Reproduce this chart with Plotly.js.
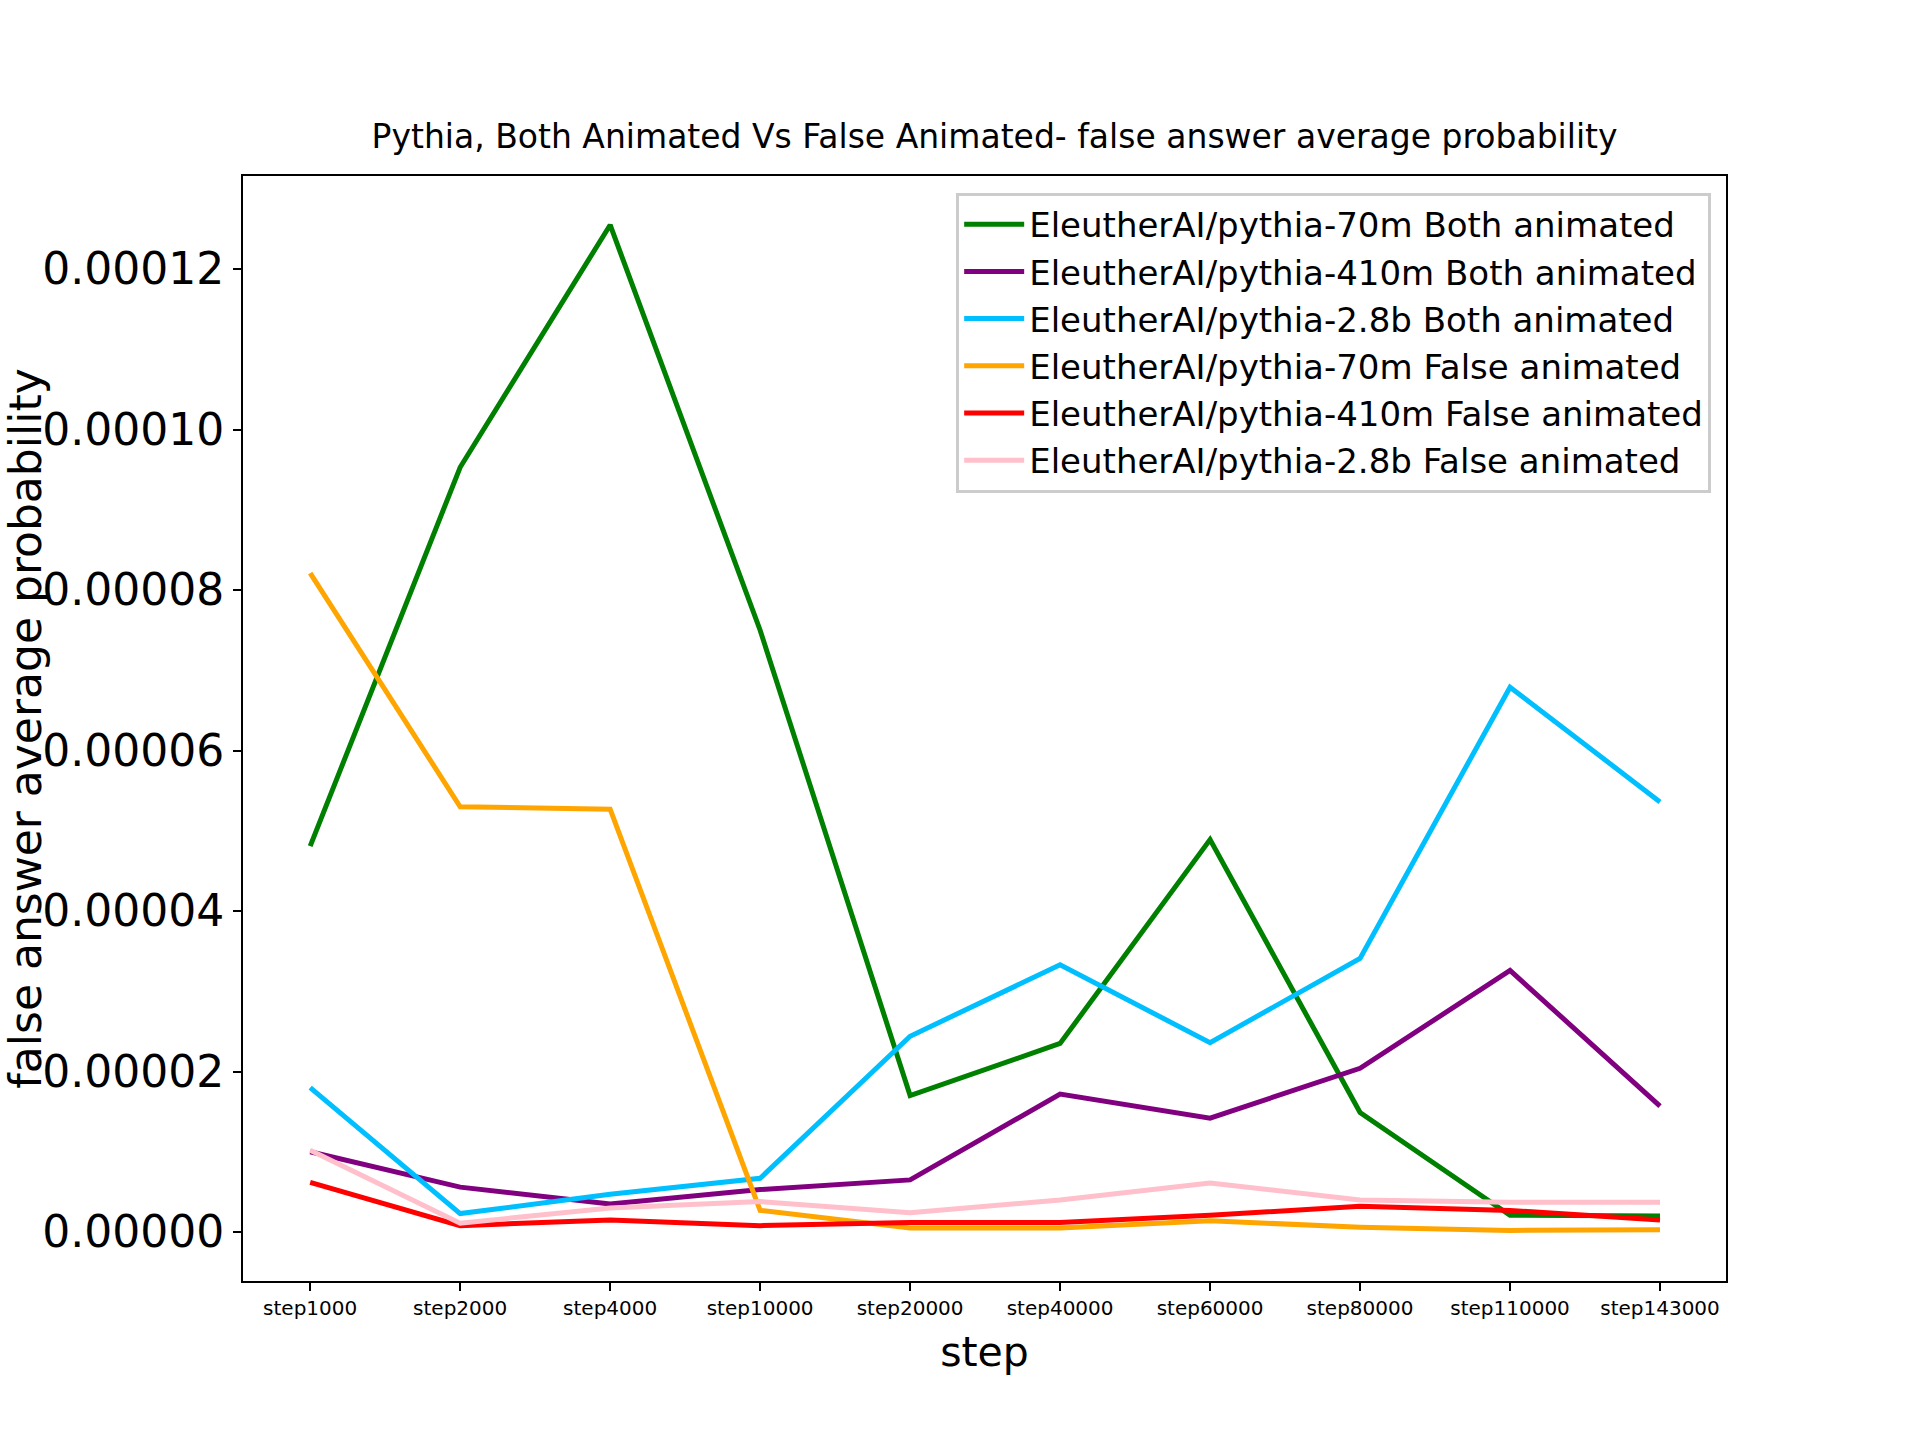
<html>
<head>
<meta charset="UTF-8">
<script src="https://cdn.plot.ly/plotly-3.0.1.min.js"></script>
</head>
<body style="margin:0;background:white;">
<div id="plot" style="width:1920px;height:1440px;"></div>
<script>
const steps = ['step1000', 'step2000', 'step4000', 'step10000', 'step20000', 'step40000', 'step60000', 'step80000', 'step110000', 'step143000'];

const both70m = [4.81e-5, 9.53e-5, 1.255e-4, 7.5e-5, 1.7e-5, 2.35e-5, 4.89e-5, 1.49e-5, 2.1e-6, 2.0e-6];
const both410m = [1.0e-5, 5.6e-6, 3.5e-6, 5.3e-6, 6.5e-6, 1.72e-5, 1.42e-5, 2.04e-5, 3.26e-5, 1.57e-5];
const both28b = [1.8e-5, 2.3e-6, 4.7e-6, 6.7e-6, 2.44e-5, 3.33e-5, 2.36e-5, 3.41e-5, 6.79e-5, 5.36e-5];
const false70m = [8.21e-5, 5.3e-5, 5.27e-5, 2.7e-6, 5e-7, 5e-7, 1.4e-6, 6e-7, 2e-7, 3e-7];
const false410m = [6.2e-6, 8e-7, 1.5e-6, 8e-7, 1.2e-6, 1.2e-6, 2.1e-6, 3.2e-6, 2.7e-6, 1.5e-6];
const false28b = [1.02e-5, 1.1e-6, 3.0e-6, 3.8e-6, 2.4e-6, 4.0e-6, 6.1e-6, 4.0e-6, 3.7e-6, 3.7e-6];

const names = [
    'EleutherAI/pythia-70m Both animated',
    'EleutherAI/pythia-410m Both animated',
    'EleutherAI/pythia-2.8b Both animated',
    'EleutherAI/pythia-70m False animated',
    'EleutherAI/pythia-410m False animated',
    'EleutherAI/pythia-2.8b False animated'
];
const colors = ['green', 'purple', 'deepskyblue', 'orange', 'red', 'pink'];
const series = [both70m, both410m, both28b, false70m, false410m, false28b];

const data = series.map(function (ys, i) {
    return {
        x: steps.map(function (s, j) { return j; }),
        y: ys,
        name: names[i],
        type: 'scatter',
        mode: 'lines',
        line: { color: colors[i], width: 5 }
    };
});

const layout = {
    width: 1920,
    height: 1440,
    paper_bgcolor: 'white',
    plot_bgcolor: 'white',
    font: { family: 'DejaVu Sans', color: 'black' },
    margin: { l: 243, r: 194, t: 176, b: 159 },
    title: {
        text: 'Pythia, Both Animated Vs False Animated- false answer average probability',
        font: { size: 33 }, x: 0.518, xanchor: 'center', y: 0.905, yanchor: 'middle'
    },
    xaxis: {
        range: [-0.448, 9.44],
        tickvals: steps.map(function (s, j) { return j; }),
        ticktext: steps,
        tickfont: { size: 20 },
        ticks: 'outside', ticklen: 8, tickwidth: 2, tickcolor: 'black',
        showgrid: false, zeroline: false,
        showline: true, linecolor: 'black', linewidth: 2, mirror: true,
        title: { text: 'step', font: { size: 41 }, standoff: 18 }
    },
    yaxis: {
        range: [-6.1e-6, 1.316e-4],
        tickvals: [0, 2e-5, 4e-5, 6e-5, 8e-5, 1e-4, 1.2e-4],
        ticktext: ['0.00000', '0.00002', '0.00004', '0.00006', '0.00008', '0.00010', '0.00012'],
        tickfont: { size: 44 },
        ticks: 'outside', ticklen: 8, tickwidth: 2, tickcolor: 'black',
        showgrid: false, zeroline: false,
        showline: true, linecolor: 'black', linewidth: 2, mirror: true,
        title: { text: 'false answer average probability', font: { size: 44 }, standoff: 10 }
    },
    showlegend: true,
    legend: {
        x: 0.99, y: 0.985, xanchor: 'right', yanchor: 'top',
        bgcolor: 'rgba(255,255,255,0.8)', bordercolor: '#cccccc', borderwidth: 3,
        font: { size: 34 }, itemwidth: 60, tracegroupgap: 0
    }
};

Plotly.newPlot('plot', data, layout, { staticPlot: true });
</script>
</body>
</html>
